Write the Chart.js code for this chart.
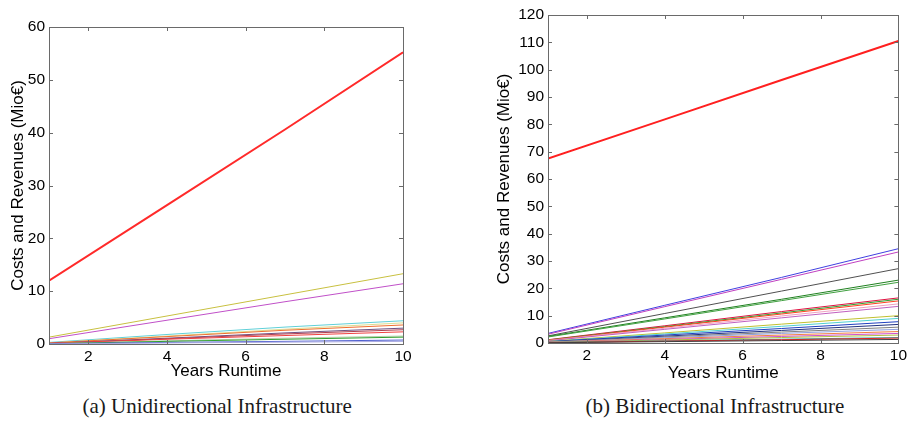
<!DOCTYPE html>
<html>
<head>
<meta charset="utf-8">
<script src="https://cdn.jsdelivr.net/npm/chart.js@4"></script>
<style>
  body { margin: 0; background: #fff; width: 910px; height: 421px; position: relative; overflow: hidden; }
  canvas { position: absolute; top: 0; }
  #uni { left: 0; }
  #bi { left: 455px; }
  .caption { position: absolute; top: 394px; font-family: "Liberation Serif", "Times New Roman", serif; font-size: 21px; color: #1a1a1a; white-space: nowrap; }
</style>
</head>
<body>
<canvas id="uni" width="420" height="385"></canvas>
<canvas id="bi" width="455" height="385"></canvas>
<div class="caption" id="capA">(a) Unidirectional Infrastructure</div>
<div class="caption" id="capB">(b) Bidirectional Infrastructure</div>
<script>
const years = [1, 4, 7, 10];
const xTickValues = [2, 4, 6, 8, 10];

// (a) unidirectional, Mio€
const uniRed       = [12.0, 26.3, 40.6, 55.2];
const uniYellow    = [1.3, 5.3, 9.3, 13.3];
const uniMagenta   = [1.0, 4.5, 8.0, 11.4];
const uniCyan      = [0.3, 1.8, 3.2, 4.4];
const uniPaleYell  = [0.2, 1.5, 2.8, 4.0];
const uniOrange    = [0.2, 1.4, 2.6, 3.6];
const uniPurple    = [0.1, 1.1, 2.1, 3.0];
const uniBrown     = [0.1, 1.0, 1.9, 2.7];
const uniRed2      = [0.1, 0.9, 1.6, 2.3];
const uniSage      = [0.05, 0.6, 1.1, 1.5];
const uniGreen     = [0.05, 0.5, 0.9, 1.3];
const uniBlue      = [0.05, 0.3, 0.5, 0.75];
const uniLavender  = [0.0, 0.2, 0.35, 0.5];

// (b) bidirectional, Mio€
const biRed        = [67.5, 81.8, 96.2, 110.5];
const biBlue       = [3.5, 13.8, 24.0, 34.5];
const biMagenta    = [3.2, 13.3, 23.3, 33.3];
const biBlack      = [2.6, 10.8, 19.0, 27.2];
const biGreen      = [2.4, 9.2, 16.0, 23.0];
const biGreen2     = [2.2, 8.8, 15.5, 22.2];
const biCrimson    = [1.2, 6.3, 11.5, 16.5];
const biGreen3     = [1.1, 6.0, 11.0, 16.0];
const biOrange     = [1.0, 5.8, 10.6, 15.4];
const biPink       = [0.9, 5.4, 9.9, 14.3];
const biMagenta2   = [0.8, 5.0, 9.2, 13.4];
const biOlive      = [0.6, 3.7, 6.9, 10.0];
const biCyan       = [0.5, 3.3, 6.1, 9.0];
const biBlue2      = [0.5, 2.9, 5.3, 7.8];
const biNavy       = [0.4, 2.5, 4.6, 6.8];
const biGray       = [0.4, 2.2, 4.0, 5.8];
const biLightBlue  = [0.3, 1.9, 3.5, 5.0];
const biOrange2    = [0.3, 1.6, 2.9, 4.2];
const biMagenta3   = [0.2, 1.3, 2.4, 3.5];
const biYellowGrn  = [0.2, 1.1, 2.0, 2.9];
const biCyan2      = [0.2, 0.8, 1.4, 2.0];
const biRed2       = [0.1, 0.7, 1.2, 1.8];
const biDarkGray   = [0.1, 0.5, 0.9, 1.3];

const uniSeries = [uniLavender, uniBlue, uniGreen, uniSage, uniRed2, uniBrown, uniPurple,
                   uniOrange, uniPaleYell, uniCyan, uniMagenta, uniYellow, uniRed];
const uniColors = ['#a8a8e0', '#5060d0', '#30a030', '#b8cca8', '#f04040', '#b04050', '#705080',
                   '#f07030', '#dcdc90', '#60d0d8', '#c050c8', '#c8c040', '#ff2a2a'];

const biSeries = [biDarkGray, biRed2, biCyan2, biYellowGrn, biMagenta3, biOrange2, biLightBlue,
                  biGray, biNavy, biBlue2, biCyan, biOlive, biMagenta2, biPink, biOrange,
                  biGreen3, biCrimson, biGreen2, biGreen, biBlack, biMagenta, biBlue, biRed];
const biColors = ['#404040', '#e02020', '#30b0b0', '#b0c040', '#d050d0', '#f08040', '#90a0e0',
                  '#808080', '#203080', '#2040c0', '#50d0d0', '#c0c030', '#c060c0', '#f0a0c0', '#ff4020',
                  '#30a030', '#e01040', '#40a040', '#208020', '#505050', '#c040c0', '#4040e0', '#ff2020'];

const BOX = '#6a6a6a';
const TEXT = '#000';
const SANS = 'Liberation Sans, Arial';

// MATLAB-style box with inward ticks on all four sides
const boxTicks = {
  id: 'boxTicks',
  afterDraw(chart) {
    const { ctx, chartArea: a, scales: { x, y } } = chart;
    const len = 4;
    ctx.save();
    ctx.strokeStyle = BOX;
    ctx.lineWidth = 1;
    ctx.strokeRect(Math.round(a.left) + 0.5, Math.round(a.top) + 0.5,
                   Math.round(a.right - a.left), Math.round(a.bottom - a.top));
    ctx.beginPath();
    x.ticks.forEach(t => {
      const px = Math.round(x.getPixelForValue(t.value)) + 0.5;
      ctx.moveTo(px, a.bottom); ctx.lineTo(px, a.bottom - len);
      ctx.moveTo(px, a.top); ctx.lineTo(px, a.top + len);
    });
    y.ticks.forEach(t => {
      const py = Math.round(y.getPixelForValue(t.value)) + 0.5;
      ctx.moveTo(a.left, py); ctx.lineTo(a.left + len, py);
      ctx.moveTo(a.right, py); ctx.lineTo(a.right - len, py);
    });
    ctx.stroke();
    ctx.restore();
  }
};

function makeChart(id, series, colors, cfg) {
  const datasets = series.map((vals, i) => ({
    data: vals.map((v, j) => ({ x: years[j], y: v })),
    borderColor: colors[i],
    borderWidth: i === series.length - 1 ? 2 : 1,
    pointRadius: 0,
    fill: false,
    tension: 0
  }));
  return new Chart(document.getElementById(id), {
    type: 'line',
    data: { datasets },
    plugins: [boxTicks],
    options: {
      responsive: false,
      animation: false,
      layout: { padding: cfg.padding },
      plugins: { legend: { display: false }, tooltip: { enabled: false } },
      scales: {
        x: {
          type: 'linear', min: 1, max: 10,
          afterBuildTicks: s => { s.ticks = xTickValues.map(v => ({ value: v })); },
          afterFit: s => { s.height = cfg.xHeight; },
          grid: { display: false, drawTicks: false },
          border: { display: false },
          ticks: { color: TEXT, font: { family: SANS, size: 15.5 }, padding: 3, maxRotation: 0 },
          title: { display: true, text: 'Years Runtime', color: TEXT,
                   font: { family: SANS, size: 17 }, padding: { top: 0, bottom: cfg.xTitlePad } }
        },
        y: {
          min: 0, max: cfg.yMax,
          afterFit: s => { s.width = cfg.yWidth; },
          grid: { display: false, drawTicks: false },
          border: { display: false },
          ticks: { stepSize: 10, color: TEXT, font: { family: SANS, size: 15.5 }, padding: 4 },
          title: { display: true, text: 'Costs and Revenues (Mio€)', color: TEXT,
                   font: { family: SANS, size: 17 }, padding: { top: cfg.yTitlePad, bottom: 0 } }
        }
      }
    }
  });
}

makeChart('uni', uniSeries, uniColors, {
  yMax: 60, yWidth: 49, xHeight: 41, xTitlePad: 3, yTitlePad: 8,
  padding: { left: 0, right: 17, top: 27, bottom: 0 }
});
makeChart('bi', biSeries, biColors, {
  yMax: 120, yWidth: 63, xHeight: 42, xTitlePad: 1, yTitlePad: 9,
  padding: { left: 30, right: 9, top: 15, bottom: 0 }
});

// captions centred under each panel
const capA = document.getElementById('capA');
const capB = document.getElementById('capB');
capA.style.left = (217 - capA.offsetWidth / 2) + 'px';
capB.style.left = (715 - capB.offsetWidth / 2) + 'px';
</script>
</body>
</html>
